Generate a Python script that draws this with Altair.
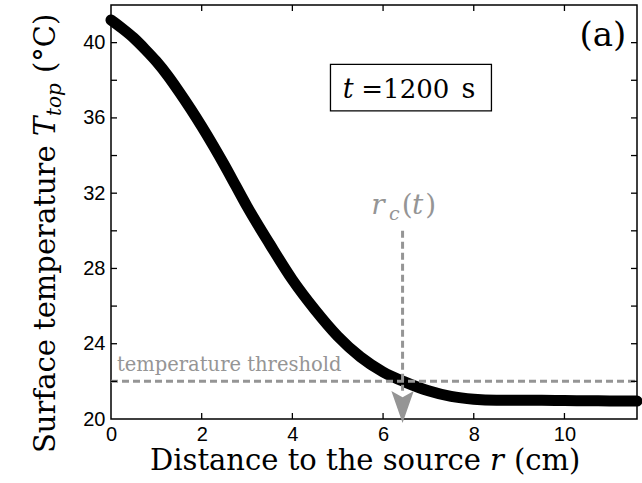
import altair as alt
import pandas as pd

# ---- data ----
r_cm = [0.0, 0.25, 0.5, 0.75, 1.0, 1.25, 1.5, 1.75, 2.0, 2.25, 2.5, 2.75, 3.0,
        3.5, 4.0, 4.5, 5.0, 5.5, 6.0, 6.5, 7.0, 7.5, 8.0, 8.5, 9.0, 9.5,
        10.0, 10.5, 11.0, 11.6]
T_top = [41.2, 40.75, 40.25, 39.65, 39.0, 38.25, 37.4, 36.5, 35.55, 34.55, 33.5, 32.4, 31.3,
         29.3, 27.4, 25.8, 24.4, 23.3, 22.5, 21.95, 21.5, 21.2, 21.05, 21.0, 21.0, 21.0,
         20.98, 20.97, 20.96, 20.95]

threshold = 22.0
r_c = 6.43
x_label_values = [0, 2, 4, 6, 8, 10]
y_label_values = [20, 24, 28, 32, 36, 40]
x_minor = [2, 4, 6, 8, 10]
y_minor = [22, 24, 26, 28, 30, 32, 34, 36, 38, 40]

W, H = 526, 414
GRAY = "#959595"
SERIF = "DejaVu Serif"
SANS = "Liberation Sans"

xs = alt.Scale(domain=[0, 11.6], nice=False, zero=False)
ys = alt.Scale(domain=[20, 42], nice=False, zero=False)

curve_df = pd.DataFrame({"r": r_cm, "T": T_top})

base_x = alt.X("r:Q", scale=xs,
               axis=alt.Axis(values=x_label_values, ticks=False, domain=False, grid=False,
                             labelFont=SANS, labelFontSize=20, labelColor="black",
                             labelPadding=5, title=None, labelFlush=False))
base_y = alt.Y("T:Q", scale=ys,
               axis=alt.Axis(values=y_label_values, ticks=False, domain=False, grid=False,
                             labelFont=SANS, labelFontSize=20, labelColor="black",
                             labelPadding=6, title=None))

curve = alt.Chart(curve_df).mark_line(
    color="black", strokeWidth=11, strokeCap="round", strokeJoin="round",
    interpolate="monotone").encode(x=base_x, y=base_y)

hline = alt.Chart(pd.DataFrame({"r": [0.0], "r2": [11.6], "T": [threshold]})).mark_rule(
    color=GRAY, strokeWidth=3, strokeDash=[7, 4]).encode(
    x=alt.X("r:Q", scale=xs), x2="r2:Q", y=alt.Y("T:Q", scale=ys))

vline = alt.Chart(pd.DataFrame({"r": [r_c], "T": [30.0], "T2": [21.5]})).mark_rule(
    color=GRAY, strokeWidth=3, strokeDash=[7, 4]).encode(
    x=alt.X("r:Q", scale=xs), y=alt.Y("T:Q", scale=ys), y2="T2:Q")

arrow = alt.Chart(pd.DataFrame({"r": [r_c], "T": [20.64]})).mark_point(
    shape="M-0.7,-1 L0,-0.6 L0.7,-1 L0,1 Z", filled=True, fill=GRAY,
    opacity=1, size=1024).encode(x=alt.X("r:Q", scale=xs), y=alt.Y("T:Q", scale=ys))

box = alt.Chart(pd.DataFrame({"r": [4.84], "r2": [8.39], "T": [36.37], "T2": [38.85]})).mark_rect(
    fill="white", stroke="black", strokeWidth=1.3).encode(
    x=alt.X("r:Q", scale=xs), x2="r2:Q", y=alt.Y("T:Q", scale=ys), y2="T2:Q")

# in-plot annotation pieces: text, x (data), y (data baseline), size, style, colour
ann_text = ["temperature threshold", "r", "c", "(", "t", ")",
            "t", "=1200", "s", "(a)"]
ann_r = [0.13, 5.74, 6.13, 6.41, 6.64, 6.93,
         5.11, 5.52, 7.73, 10.33]
ann_T = [22.53, 30.88, 30.6, 30.88, 30.88, 30.88,
         37.08, 37.08, 37.08, 39.82]
ann_size = [19.5, 28, 19, 28, 28, 28,
            27, 26, 27, 34]
ann_style = ["normal", "italic", "italic", "normal", "italic", "normal",
             "italic", "normal", "normal", "normal"]
ann_color = [GRAY, GRAY, GRAY, GRAY, GRAY, GRAY,
             "black", "black", "black", "black"]

ann_layers = []
for t, rr, TT, s, st, c in zip(ann_text, ann_r, ann_T, ann_size, ann_style, ann_color):
    ann_layers.append(
        alt.Chart(pd.DataFrame({"r": [rr], "T": [TT], "txt": [t]})).mark_text(
            font=SERIF, fontSize=s, fontStyle=st, color=c, align="left",
            baseline="alphabetic").encode(
            x=alt.X("r:Q", scale=xs), y=alt.Y("T:Q", scale=ys), text="txt:N"))

# axis titles composed of pieces (pixel positions relative to the plot area)
xt_text = ["Distance to the source", "r", "(cm)"]
xt_x = [39, 379, 403]
xt_style = ["normal", "italic", "normal"]
title_layers = []
for t, px, st in zip(xt_text, xt_x, xt_style):
    title_layers.append(
        alt.Chart(pd.DataFrame({"txt": [t]})).mark_text(
            font=SERIF, fontSize=29, fontStyle=st, color="black", align="left",
            baseline="alphabetic").encode(x=alt.value(px), y=alt.value(465), text="txt:N"))

yt_text = ["Surface temperature", "T", "top", "(°C)"]
yt_y = [448, 131, 111, 68]
yt_x = [-56, -56, -50, -56]
yt_size = [29, 29, 20, 29]
yt_style = ["normal", "italic", "italic", "normal"]
for t, py, px, s, st in zip(yt_text, yt_y, yt_x, yt_size, yt_style):
    title_layers.append(
        alt.Chart(pd.DataFrame({"txt": [t]})).mark_text(
            font=SERIF, fontSize=s, fontStyle=st, color="black", align="left",
            baseline="alphabetic", angle=270).encode(x=alt.value(px), y=alt.value(py), text="txt:N"))

# inward ticks on all four sides
yt_df = pd.DataFrame({"T": y_minor})
xt_df = pd.DataFrame({"r": x_minor})
tick_left = alt.Chart(yt_df).mark_rule(color="black", strokeWidth=1.3).encode(
    y=alt.Y("T:Q", scale=ys), x=alt.value(0), x2=alt.value(6))
tick_right = alt.Chart(yt_df).mark_rule(color="black", strokeWidth=1.3).encode(
    y=alt.Y("T:Q", scale=ys), x=alt.value(W - 6), x2=alt.value(W))
tick_bottom = alt.Chart(xt_df).mark_rule(color="black", strokeWidth=1.3).encode(
    x=alt.X("r:Q", scale=xs), y=alt.value(H - 6), y2=alt.value(H))
tick_top = alt.Chart(xt_df).mark_rule(color="black", strokeWidth=1.3).encode(
    x=alt.X("r:Q", scale=xs), y=alt.value(0), y2=alt.value(6))

chart = alt.layer(
    curve, hline, vline, arrow, box, *ann_layers, *title_layers,
    tick_left, tick_right, tick_bottom, tick_top
).properties(
    width=W, height=H,
    autosize=alt.AutoSizeParams(type="none"),
    padding={"left": 111, "top": 5, "right": 5, "bottom": 64},
    background="white",
).configure_view(stroke="black", strokeWidth=1.5)

chart.save("out.html", embed_options={"renderer": "svg", "actions": False})
